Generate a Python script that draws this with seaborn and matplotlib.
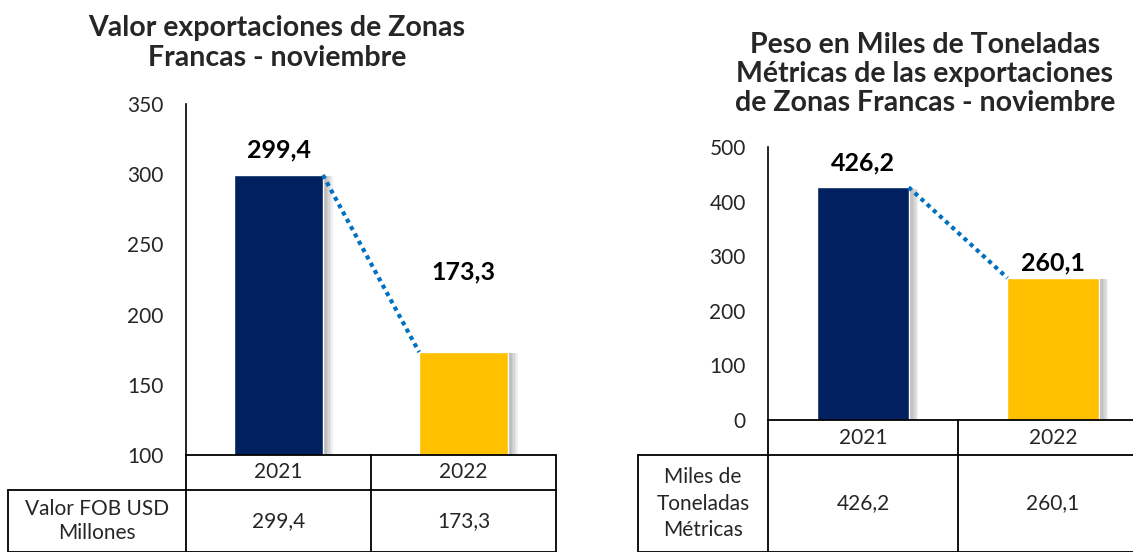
import matplotlib
matplotlib.use("Agg")
import matplotlib.pyplot as plt
import matplotlib.patheffects as pe
from matplotlib.lines import Line2D
import seaborn as sns
import pandas as pd

# ---- data ----
years = ["2021", "2022"]
valor_fob = [299.4, 173.3]
peso_miles_ton = [426.2, 260.1]
valor_labels = ["299,4", "173,3"]
peso_labels = ["426,2", "260,1"]
title_left = "Valor exportaciones de Zonas\nFrancas - noviembre"
title_right = "Peso en Miles de Toneladas\nMétricas de las exportaciones\nde Zonas Francas - noviembre"
row_left = "Valor FOB USD\nMillones"
row_right = "Miles de\nToneladas\nMétricas"
left_ticks = [100, 150, 200, 250, 300, 350]
right_ticks = [0, 100, 200, 300, 400, 500]

colors = ["#002060", "#FFC000"]
line_color = "#0070C0"

sns.set_theme(style="white")
plt.rcParams["font.family"] = ["Lato", "DejaVu Sans"]

W, H = 1133, 552
fig = plt.figure(figsize=(W / 100, H / 100), dpi=100)


def fx(px):
    return px / W


def fy(py):
    return 1 - py / H


shadow_effects = [pe.SimplePatchShadow(offset=(k, -1), shadow_rgbFace="#606060", alpha=0.09)
                  for k in range(1, 8)] + [pe.Normal()]


def add_panel(left_px, right_px, top_px, bottom_px, values, labels, ylim, ticks,
              label_offsets, title, title_y, title_x, row_label, row_label_x,
              table_left_px, row1_bottom_px, row_ls):
    ax = fig.add_axes([fx(left_px), fy(bottom_px), fx(right_px - left_px),
                       (bottom_px - top_px) / H])
    df = pd.DataFrame({"year": years, "value": values})
    bw = 0.48
    sns.barplot(data=df, x="year", y="value", hue="year", palette=colors,
                legend=False, width=bw, ax=ax, saturation=1)
    for p in ax.patches:
        p.set_path_effects(shadow_effects)
    ax.set_xlim(-0.5, 1.5)
    ax.set_ylim(*ylim)
    ax.set_yticks(ticks)
    ax.set_yticklabels([str(t) for t in ticks], fontsize=15)
    ax.tick_params(axis="y", length=0, pad=16)
    ax.set_xticks([])
    ax.set_xlabel("")
    ax.set_ylabel("")
    for s in ["top", "right", "bottom"]:
        ax.spines[s].set_visible(False)
    ax.spines["left"].set_color("black")
    ax.spines["left"].set_linewidth(1.2)
    # connector line
    ax.plot([0 + bw / 2, 1 - bw / 2], [values[0], values[1]], color=line_color,
            linestyle=(0, (1, 1)), linewidth=3, solid_capstyle="butt", zorder=5)
    # data labels
    for i, (v, lab, off) in enumerate(zip(values, labels, label_offsets)):
        ax.text(i, v + off, lab, ha="center", va="center", fontsize=18,
                fontweight="bold", color="black")
    # title
    fig.text(fx(title_x), fy(title_y), title, ha="center", va="center",
             fontsize=20.5, fontweight="bold", linespacing=1.15)
    # table
    mid_px = (left_px + right_px) / 2
    lw = 1.3
    tr = fig.transFigure
    lines = [
        ((left_px, right_px), (bottom_px, bottom_px)),
        ((table_left_px, right_px), (row1_bottom_px, row1_bottom_px)),
        ((table_left_px, right_px), (H - 0.5, H - 0.5)),
        ((left_px, left_px), (bottom_px, H)),
        ((mid_px, mid_px), (bottom_px, H)),
        ((right_px, right_px), (bottom_px, H)),
        ((table_left_px, table_left_px), (row1_bottom_px, H)),
    ]
    for xs, ys in lines:
        fig.add_artist(Line2D([fx(x) for x in xs], [fy(y) for y in ys],
                              transform=tr, color="black", linewidth=lw))
    centers = [(left_px + mid_px) / 2, (mid_px + right_px) / 2]
    r1y = (bottom_px + row1_bottom_px) / 2
    r2y = (row1_bottom_px + H) / 2
    for c, yr, lab in zip(centers, years, labels):
        fig.text(fx(c), fy(r1y), yr, ha="center", va="center", fontsize=15)
        fig.text(fx(c), fy(r2y), lab, ha="center", va="center", fontsize=15)
    fig.text(fx(row_label_x), fy(r2y), row_label, ha="center", va="center",
             fontsize=15, linespacing=row_ls)
    return ax


add_panel(186, 556, 104, 455, valor_fob, valor_labels, (100, 350), left_ticks,
          [18, 57], title_left, 43, 277, row_left, 97, 8, 490, 1.3)
add_panel(768, 1148, 147, 420, peso_miles_ton, peso_labels, (0, 500), right_ticks,
          [44, 28], title_right, 74, 925, row_right, 703, 638, 455, 1.4)

fig.savefig("out.png", dpi=100)
